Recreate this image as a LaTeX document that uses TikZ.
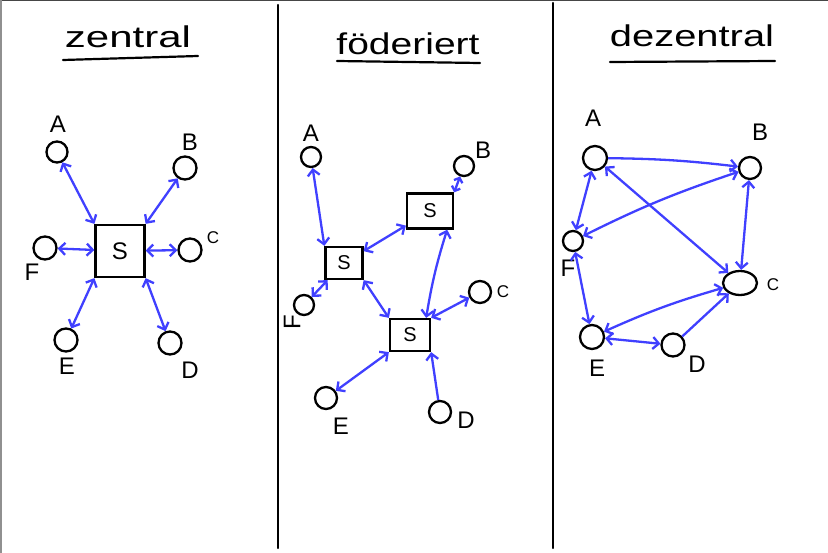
\documentclass[tikz,border=0pt]{standalone}
\usepackage{fontspec}
\setmainfont{Liberation Sans}
\usetikzlibrary{arrows.meta,shapes.geometric}
\definecolor{pen}{RGB}{64,64,255}
\definecolor{edge}{RGB}{70,70,70}
\begin{document}
\begin{tikzpicture}[x=1pt,y=-1pt,
  blk/.style={line width=2.2pt, black, line cap=round},
  nd/.style={circle, draw, line width=2.3pt, minimum size=21pt, inner sep=0pt},
  srv/.style={draw, line width=2.3pt, inner sep=0pt, font=\fontsize{24}{24}\selectfont},
  lbl/.style={font=\fontsize{24}{24}\selectfont, inner sep=0pt},
  slbl/.style={font=\fontsize{17}{17}\selectfont, inner sep=0pt},
  con/.style={draw=pen, line width=2.3pt},
  both/.style={con, {Straight Barb[length=6pt,width=12pt]}-{Straight Barb[length=6pt,width=12pt]}},
  bothsmall/.style={con, {Straight Barb[length=4pt,width=9pt]}-{Straight Barb[length=4pt,width=9pt]}},
  one/.style={con, -{Straight Barb[length=6pt,width=12pt]}},
  ttl/.style={font=\fontsize{30}{30}\selectfont, inner sep=0pt, anchor=base}
]
\useasboundingbox (0,0) rectangle (828,553);
\fill[white] (0,0) rectangle (828,553);
% frame edges and dividers
\draw[line width=3pt, edge] (0,0) -- (828,0);
\draw[line width=3pt, edge!60] (0,0) -- (0,553);
\draw[blk] (278,5) -- (278,548);
\draw[blk] (553,3) -- (553,548);

% titles
\node[ttl] (t1) at (128,48) {\scalebox{1.4}[1]{zentral}};
\node[ttl] (t2) at (408,55) {\scalebox{1.3}[1]{föderiert}};
\node[ttl] (t3) at (692,47) {\scalebox{1.33}[1]{dezentral}};
\draw[blk] (63,60) -- (198,56);
\draw[blk] (337,61) -- (480,63);
\draw[blk] (610,62) -- (775,61);

% ---------- zentral ----------
\node[srv, minimum width=49pt, minimum height=52pt] (S) at (120,251) {S};
\node[nd] (A) at (57,152) {};
\node[nd, minimum size=23pt] (B) at (185,168) {};
\node[nd, minimum size=23pt] (C) at (190,250) {};
\node[nd, minimum size=23pt] (F) at (45,248) {};
\node[nd, minimum size=23pt] (E) at (66,340) {};
\node[nd, minimum size=23pt] (D) at (170,343) {};
\node[lbl] (lA) at (58,124) {A};
\node[lbl] (lB) at (190,142) {B};
\node[slbl] (lC) at (213,238) {C};
\node[lbl] (lF) at (32,272) {F};
\node[lbl] (lE) at (67,366) {E};
\node[lbl] (lD) at (190,370) {D};
\draw[both] (A) -- (S.north west);
\draw[both] (B) -- (S.north east);
\draw[both] (F) -- (S);
\draw[both] (S) -- (C);
\draw[both] (S.south west) -- (E);
\draw[both] (S.south east) -- (D);

% ---------- foederiert ----------
\node[srv, minimum width=37pt, minimum height=32pt, font=\fontsize{20}{20}\selectfont] (S1) at (344,263) {S};
\node[srv, minimum width=46pt, minimum height=35pt, font=\fontsize{20}{20}\selectfont] (S2) at (430,211) {S};
\node[srv, minimum width=40pt, minimum height=32pt, font=\fontsize{20}{20}\selectfont] (S3) at (410,335) {S};
\node[nd, minimum size=20pt] (A2) at (311,157) {};
\node[nd, minimum size=20pt] (B2) at (464,166) {};
\node[nd, minimum size=20pt] (F2) at (304,305) {};
\node[nd, minimum size=22pt] (C2) at (480,292) {};
\node[nd, minimum size=22pt] (E2) at (326,398) {};
\node[nd, minimum size=22pt] (D2) at (440,412) {};
\node[lbl] (lA2) at (311,133) {A};
\node[lbl] (lB2) at (483,150) {B};
\node[slbl] (lC2) at (503,292) {C};
\node[lbl, rotate=90] (lF2) at (292,322) {F};
\node[lbl] (lE2) at (341,426) {E};
\node[lbl] (lD2) at (466,420) {D};
\coordinate (s2b) at ([xshift=-7pt]S2.south east);
\coordinate (s3t) at ([xshift=-5pt]S3.north east);
\draw[both] (A2) -- (S1.north west);
\draw[both] (S1) -- (S2);
\draw[bothsmall] (B2) -- (S2.north east);
\draw[both] (s2b) to[bend right=4] (s3t);
\draw[both] (S1.south east) -- (S3.north west);
\draw[both] (F2) -- (S1);
\draw[both] (S3.north east) -- (C2);
\draw[both] (S3.south west) -- (E2);
\draw[one] (D2) -- (S3.south east);

% ---------- dezentral ----------
\node[nd, minimum size=24pt] (A3) at (595,158) {};
\node[nd, minimum size=22pt] (B3) at (750,168) {};
\node[nd, minimum size=20pt] (F3) at (573,241) {};
\node[ellipse, draw, line width=2.3pt, minimum width=34pt, minimum height=24pt, inner sep=0pt] (C3) at (740,283) {};
\node[nd, minimum size=24pt] (E3) at (592,337) {};
\node[nd, minimum size=23pt] (D3) at (673,345) {};
\node[lbl] (lA3) at (593,118) {A};
\node[lbl] (lB3) at (760,132) {B};
\node[slbl] (lC3) at (773,285) {C};
\node[lbl] (lF3) at (568,268) {F};
\node[lbl] (lE3) at (597,368) {E};
\node[lbl] (lD3) at (697,364) {D};
\draw[one] (A3) to[bend left=3] (B3);
\draw[both] (F3) to[bend left=4] (B3);
\draw[both] (A3) -- (F3);
\draw[both] (A3) -- (C3);
\draw[both] (B3) -- (C3);
\draw[both] (F3) -- (E3);
\draw[both] (E3) to[bend left=4] (C3);
\draw[both] (E3) -- (D3);
\draw[one] (D3) -- (C3);
\end{tikzpicture}
\end{document}
